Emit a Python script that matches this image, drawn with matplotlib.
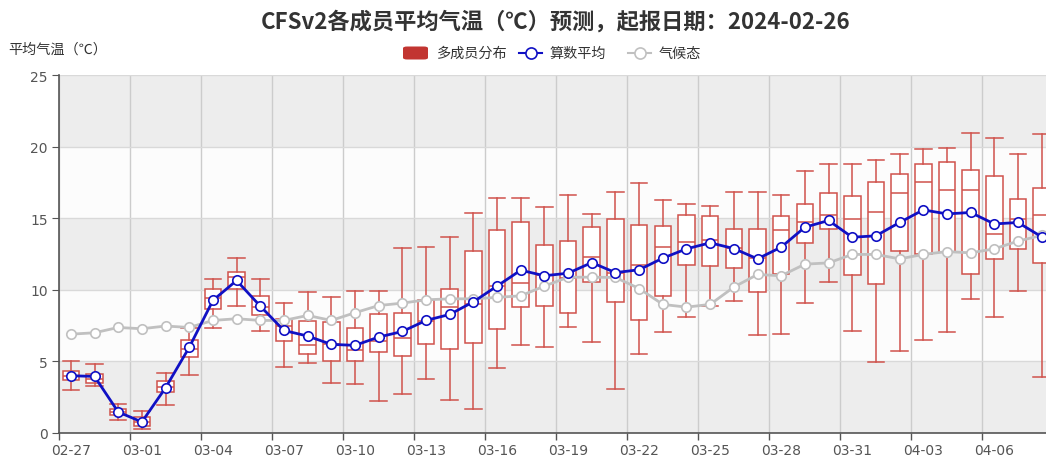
import matplotlib

matplotlib.use("Agg")
import matplotlib.pyplot as plt
import pandas as pd
from matplotlib.lines import Line2D
from matplotlib.patches import FancyBboxPatch

plt.rcParams["font.family"] = ["Noto Sans CJK SC", "DejaVu Sans"]

# categories: 42 forecast days starting 02-27
dates = list(pd.date_range("2024-02-27", periods=42).strftime("%m-%d"))

# ensemble distribution
whis_lo = [3.0, 3.25, 0.9, 0.28, 1.95, 4.08, 7.33, 8.86, 7.09, 4.63, 4.88, 3.49, 3.44, 2.23,
           2.74, 3.79, 2.33, 1.67, 4.53, 6.16, 5.98, 7.42, 6.33, 3.09, 5.51, 7.05, 8.07, 8.85,
           9.23, 6.84, 6.93, 9.09, 10.53, 7.14, 4.98, 5.74, 6.47, 7.05, 9.37, 8.07, 9.93, 3.93]
q1 = [3.7, 3.5, 1.27, 0.5, 2.85, 5.3, 8.67, 10.07, 8.26, 6.44, 5.53, 5.02, 5.0, 5.65,
      5.37, 6.2, 5.84, 6.28, 7.28, 8.81, 8.88, 8.37, 10.53, 9.14, 7.86, 9.56, 11.7, 11.65,
      11.51, 9.86, 11.07, 13.26, 14.26, 11.05, 10.42, 12.7, 12.53, 12.67, 11.12, 12.14, 12.84, 11.84]
median = [3.95, 3.8, 1.5, 0.8, 3.2, 5.9, 9.42, 10.88, 8.8, 7.5, 6.16, 6.2, 5.77, 6.4,
          6.65, 7.8, 8.78, 9.0, 10.3, 10.47, 11.0, 10.82, 12.28, 11.2, 11.7, 12.97, 13.32, 13.5,
          12.9, 12.2, 14.17, 14.74, 15.19, 14.95, 15.44, 16.74, 17.51, 16.98, 16.98, 13.91, 14.95, 15.19]
q3 = [4.3, 4.1, 1.68, 1.1, 3.62, 6.5, 10.07, 11.23, 9.6, 7.93, 7.79, 7.74, 7.33, 8.3,
      8.37, 9.26, 10.09, 12.74, 14.2, 14.72, 13.14, 13.42, 14.37, 14.95, 14.56, 14.49, 15.23, 15.14,
      14.23, 14.25, 15.14, 16.0, 16.74, 16.56, 17.51, 18.09, 18.81, 18.95, 18.35, 17.93, 16.33, 17.12]
whis_hi = [5.0, 4.8, 2.0, 1.57, 4.18, 7.3, 10.72, 12.23, 10.74, 9.07, 9.88, 9.47, 9.93, 9.93,
           12.9, 13.0, 13.67, 15.35, 16.4, 16.4, 15.79, 16.6, 15.28, 16.81, 17.47, 16.3, 15.98, 15.88,
           16.84, 16.81, 16.63, 18.3, 18.81, 18.77, 19.05, 19.47, 19.81, 19.88, 20.95, 20.6, 19.47, 20.91]

# ensemble mean and climatology
ens_mean = [4.0, 3.95, 1.47, 0.77, 3.16, 5.98, 9.26, 10.65, 8.86, 7.16, 6.77, 6.19, 6.12, 6.7,
            7.09, 7.86, 8.28, 9.16, 10.26, 11.37, 10.98, 11.16, 11.9, 11.2, 11.4, 12.21, 12.86, 13.28,
            12.88, 12.16, 12.98, 14.37, 14.84, 13.67, 13.77, 14.7, 15.58, 15.3, 15.4, 14.6, 14.7, 13.7]
clim = [6.9, 7.0, 7.37, 7.28, 7.47, 7.37, 7.86, 7.98, 7.86, 7.86, 8.21, 7.86, 8.4, 8.9,
        9.07, 9.3, 9.37, 9.37, 9.47, 9.58, 10.26, 10.88, 10.88, 10.86, 10.09, 8.98, 8.79, 8.98,
        10.19, 11.07, 10.98, 11.79, 11.88, 12.47, 12.47, 12.16, 12.47, 12.67, 12.58, 12.86, 13.4, 13.8]

RED = "#d0524c"
BLUE = "#1010c4"
GRAY = "#c0c0c0"

fig = plt.figure(figsize=(10.46, 4.56), dpi=100)
W, H = 1046, 456
ax = fig.add_axes([59 / W, (H - 434) / H, (1053.5 - 59) / W, (434 - 76) / H])

n = len(dates)
x = list(range(n))

# alternating split areas
for k, lo in enumerate(range(0, 25, 5)):
    ax.axhspan(lo, lo + 5, color="#ededed" if k % 2 == 0 else "#fcfcfc", zorder=0, lw=0)

stats = [
    dict(med=median[i], q1=q1[i], q3=q3[i], whislo=whis_lo[i], whishi=whis_hi[i], fliers=[])
    for i in range(n)
]
ax.bxp(
    stats,
    positions=x,
    widths=0.7,
    patch_artist=True,
    showfliers=False,
    boxprops=dict(facecolor="white", edgecolor=RED, linewidth=1.1),
    medianprops=dict(color=RED, linewidth=1.1),
    whiskerprops=dict(color=RED, linewidth=1.1),
    capprops=dict(color=RED, linewidth=1.1),
    capwidths=0.7,
    zorder=3,
    manage_ticks=False,
)

ax.plot(x, clim, color=GRAY, lw=2, marker="o", ms=6.8, mfc="white", mec=GRAY, mew=1.2, zorder=4)
ax.plot(x, ens_mean, color=BLUE, lw=2, marker="o", ms=6.8, mfc="white", mec=BLUE, mew=1.2, zorder=5)

ax.set_xlim(-0.5, n - 0.5)
ax.set_ylim(0, 25)

# ticks on category boundaries, labels centred on categories
ax.set_xticks([i - 0.5 for i in range(0, n, 3)])
ax.set_xticklabels([])
ax.set_xticks(list(range(0, n, 3)), minor=True)
ax.set_xticklabels([dates[i] for i in range(0, n, 3)], minor=True, family="DejaVu Sans")
ax.tick_params(axis="x", which="major", length=5, color="#555555", width=1)
ax.tick_params(axis="x", which="minor", length=0, pad=7, labelsize=10, labelcolor="#555555")

ax.set_yticks(range(0, 26, 5))
ax.set_yticklabels([str(v) for v in range(0, 26, 5)], family="DejaVu Sans")
ax.tick_params(axis="y", length=5, color="#555555", labelsize=10, labelcolor="#555555", pad=3)

ax.grid(axis="x", which="major", color="#cccccc", lw=1, zorder=1)
ax.grid(axis="y", color="#d9d9d9", lw=1, zorder=1)
ax.set_axisbelow(True)

for side in ["top", "right"]:
    ax.spines[side].set_visible(False)
for side in ["left", "bottom"]:
    ax.spines[side].set_color("#555555")
    ax.spines[side].set_linewidth(1.2)

fig.text(556 / W, 1 - 22 / H, "CFSv2各成员平均气温（℃）预测，起报日期：2024-02-26",
         ha="center", va="center", fontsize=16, fontweight="bold", color="#333333")
fig.text(8 / W, 1 - 50 / H, "平均气温（℃）", ha="left", va="center", fontsize=10.2, color="#333333")

# legend drawn by hand so the red swatch can be a rounded rectangle
ly = 1 - 54 / H
fig.patches.append(FancyBboxPatch((403 / W, ly - 6.5 / H), 25 / W, 13 / H,
                                  boxstyle="round,pad=0,rounding_size=0.004",
                                  transform=fig.transFigure, facecolor="#c23531",
                                  edgecolor="none"))
fig.text(437 / W, ly, "多成员分布", ha="left", va="center", fontsize=10.2, color="#333333")
for x0, col, label in [(519, BLUE, "算数平均"), (628, GRAY, "气候态")]:
    fig.add_artist(Line2D([x0 / W, (x0 + 23) / W], [ly, ly], transform=fig.transFigure,
                          color=col, lw=1.5))
    fig.add_artist(Line2D([(x0 + 11.5) / W], [ly], transform=fig.transFigure, marker="o",
                          ms=8, mfc="white", mec=col, mew=1.2, ls="none"))
    fig.text((x0 + 31) / W, ly, label, ha="left", va="center", fontsize=10.2, color="#333333")

fig.savefig("out.png", dpi=100)
